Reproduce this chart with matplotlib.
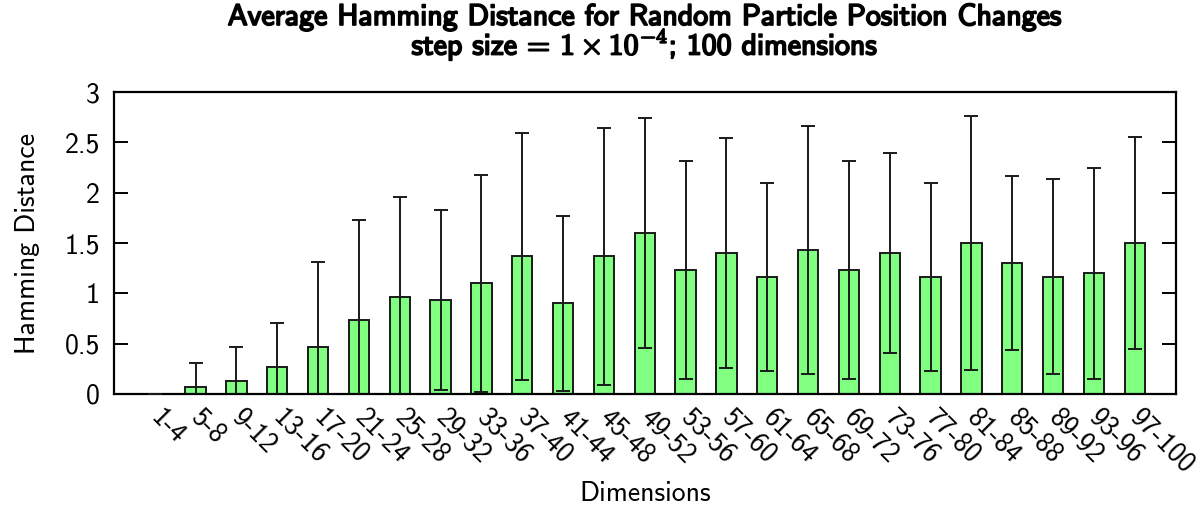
import numpy as np
import matplotlib
matplotlib.use("Agg")
import matplotlib.pyplot as plt
import matplotlib.patheffects as pe
from matplotlib.ticker import FuncFormatter

plt.rcParams['font.family'] = ['cmss10', 'DejaVu Sans']
plt.rcParams['mathtext.fontset'] = 'cm'
plt.rcParams['axes.unicode_minus'] = False

groups = ["1-4", "5-8", "9-12", "13-16", "17-20", "21-24", "25-28", "29-32",
          "33-36", "37-40", "41-44", "45-48", "49-52", "53-56", "57-60", "61-64",
          "65-68", "69-72", "73-76", "77-80", "81-84", "85-88", "89-92", "93-96",
          "97-100"]
mean_dist = [0.0, 0.0667, 0.1333, 0.2667, 0.4667, 0.7333, 0.9667, 0.9333,
             1.1, 1.3667, 0.9, 1.3667, 1.6, 1.2333, 1.4, 1.1667,
             1.4333, 1.2333, 1.4, 1.1667, 1.5, 1.3, 1.1667, 1.2, 1.5]
std_dist = [0.0, 0.245, 0.338, 0.44, 0.847, 0.996, 0.986, 0.89,
            1.078, 1.227, 0.871, 1.278, 1.143, 1.086, 1.144, 0.934,
            1.23, 1.086, 0.99, 0.934, 1.262, 0.861, 0.97, 1.047, 1.054]

fig = plt.figure(figsize=(12.02, 5.07), dpi=100)
ax = fig.add_axes([0.0948, 0.2229, 0.978 - 0.0948, 0.8185 - 0.2229])

x = np.arange(len(groups))
ax.bar(x, mean_dist, width=0.5, color='#80ff80', edgecolor='#1a1a1a', linewidth=1.4, zorder=2)
ax.errorbar(x, mean_dist, yerr=std_dist, fmt='none', ecolor='#1a1a1a',
            elinewidth=1.4, capsize=5, capthick=1.4, zorder=3)

ax.set_xlim(-1, 25)
ax.set_ylim(0, 3)
ax.set_yticks(np.arange(0, 3.01, 0.5))
ax.yaxis.set_major_formatter(FuncFormatter(lambda v, p: f"{v:g}"))
ax.set_xticks(x)
ax.set_xticklabels(groups, rotation=-45, ha='left', va='center', rotation_mode='anchor')
ax.tick_params(axis='x', length=0, pad=14, labelsize=20)
ax.tick_params(axis='y', direction='in', length=10, width=1.4, right=True, labelsize=20, pad=10)
for s in ax.spines.values():
    s.set_linewidth(1.6)

ax.set_ylabel("Hamming Distance", fontsize=20, labelpad=18)
ax.set_xlabel("Dimensions", fontsize=20, labelpad=2)
title = ax.set_title("Average Hamming Distance for Random Particle Position Changes\n"
                     r"step size = $\mathbf{1\times10^{-4}}$; 100 dimensions",
                     fontsize=21.5, linespacing=0.82, pad=27)
title.set_path_effects([pe.withStroke(linewidth=1.3, foreground='black')])

fig.savefig("out.png", dpi=100)
